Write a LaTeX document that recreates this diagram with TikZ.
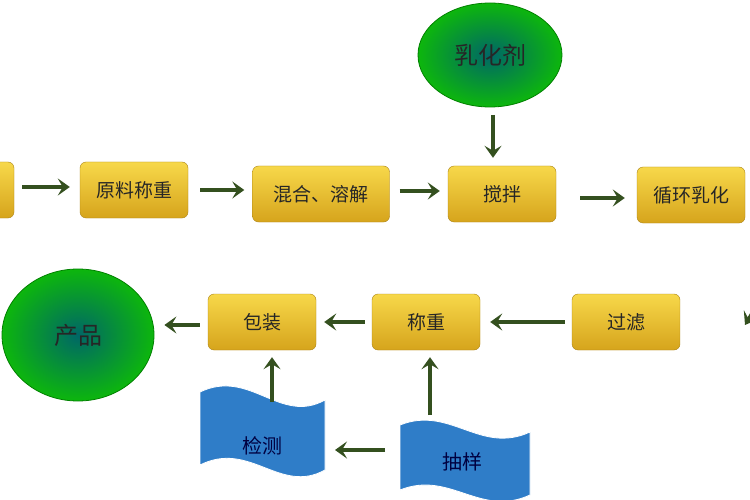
\documentclass[tikz,border=0pt]{standalone}
\usepackage{fontspec}
\setmainfont{Noto Sans CJK SC}
\usetikzlibrary{arrows.meta,shapes.geometric}
\definecolor{arrowgreen}{HTML}{34501F}
\definecolor{goldA}{HTML}{F7D84A}
\definecolor{goldB}{HTML}{D6A41C}
\definecolor{wave}{HTML}{2F7DC8}
\tikzset{
  flow/.style={-{Stealth[length=12pt,width=17pt,inset=5pt]},line width=3.5pt,arrowgreen},
  stepbox/.style={rectangle,rounded corners=6pt,draw=goldB!80!black,thin,
    top color=goldA,bottom color=goldB,minimum width=108pt,minimum height=56pt,
    font=\fontsize{19}{19}\selectfont,text=black!85},
  blob/.style={ellipse,draw=green!50!black,thick,inner color=teal!85!cyan!70!black,
    outer color=green!70!black!95,font=\fontsize{24}{24}\selectfont,text=black!85},
  tag/.style={font=\fontsize{20}{20}\selectfont,text=black!75!blue,inner sep=0pt}
}
\begin{document}
\begin{tikzpicture}[x=1pt,y=-1pt]
  \fill[white] (0,0) rectangle (750,500);
  \useasboundingbox (0,0) rectangle (750,500);
  \clip (0,0) rectangle (750,500);

  % top row
  \node[stepbox] (first) at (-40,190) {};
  \node[stepbox] (ylcz) at (134,190) {原料称重};
  \node[stepbox,minimum width=137pt] (hhrj) at (321,194) {混合、溶解};
  \node[stepbox] (jb) at (502,194) {搅拌};
  \node[stepbox] (xhrh) at (691,195) {循环乳化};
  \node[blob,minimum width=144pt,minimum height=104pt] (rhj) at (490,55) {乳化剂};

  % second row
  \node[stepbox] (gl) at (626,322) {过滤};
  \node[stepbox] (cz) at (426,322) {称重};
  \node[stepbox] (bz) at (262,322) {包装};
  \node[blob,minimum width=152pt,minimum height=132pt] (cp) at (78,335) {产品};
  \coordinate (edge) at (790,250);

  % wavy tags
  \fill[wave,draw=white,thick] (200,392) .. controls (250,368) and (280,425) .. (325,400)
    -- (325,470) .. controls (280,495) and (250,440) .. (200,465) -- cycle;
  \node[tag] (jc) at (262,446) {检测};
  \fill[wave,draw=white,thick] (400,425) .. controls (450,405) and (480,455) .. (530,432)
    -- (530,495) .. controls (480,518) and (450,470) .. (400,490) -- cycle;
  \node[tag] (cy) at (462,462) {抽样};

  % connectors
  \draw[flow] (22,187) -- ([xshift=-10pt]ylcz.west |- 0,187);
  \draw[flow] ([xshift=12pt]ylcz.east |- 0,190) -- ([xshift=-8pt]hhrj.west |- 0,190);
  \draw[flow] ([xshift=10pt]hhrj.east |- 0,191) -- ([xshift=-8pt]jb.west |- 0,191);
  \draw[flow] ([xshift=24pt]jb.east |- 0,198) -- ([xshift=-12pt]xhrh.west |- 0,198);
  \draw[flow] (493,115) -- ([yshift=8pt]jb.north -| 493,0);
  \draw[flow] (edge) -- (745,325);
  \draw[flow] ([xshift=-7pt]gl.west) -- ([xshift=10pt]cz.east);
  \draw[flow] ([xshift=-7pt]cz.west) -- ([xshift=8pt]bz.east);
  \draw[flow] ([xshift=-8pt]bz.west |- 0,325) -- ([xshift=10pt]cp.east |- 0,325);
  \draw[flow] (385,450) -- (335,450);
  \draw[flow] (272,402) -- ([yshift=-7pt]bz.south -| 272,0);
  \draw[flow] (430,415) -- ([yshift=-7pt]cz.south -| 430,0);
\end{tikzpicture}
\end{document}
